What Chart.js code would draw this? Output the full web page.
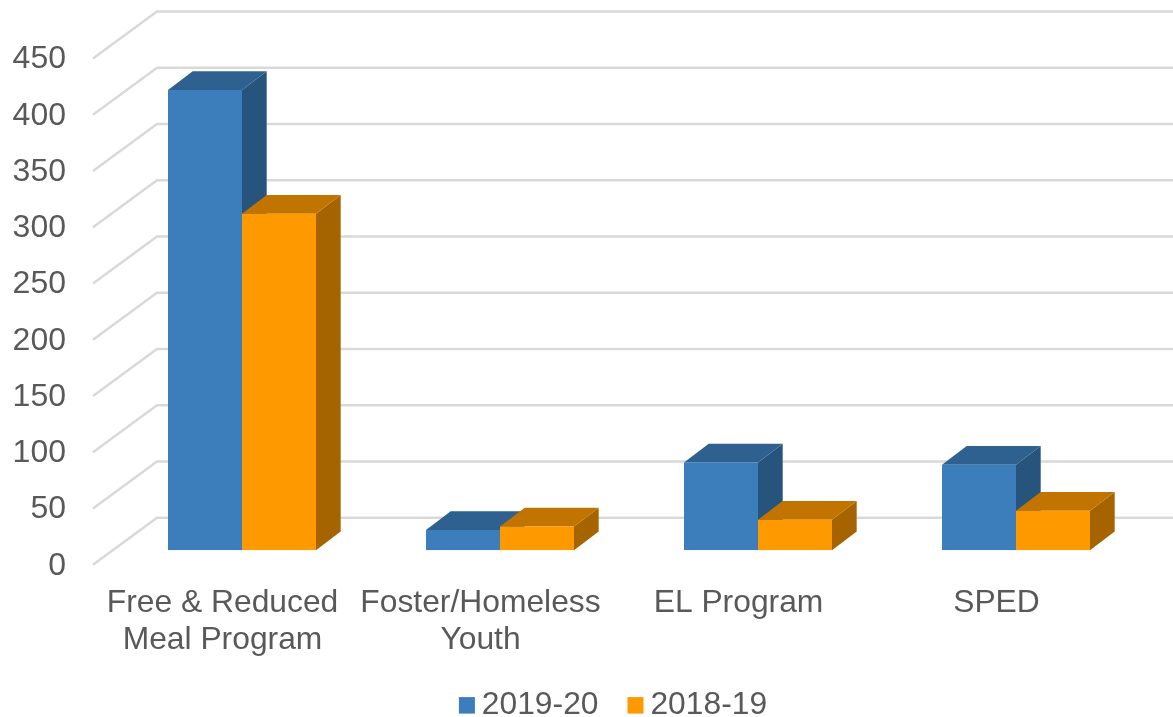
<!DOCTYPE html>
<html>
<head>
<meta charset="utf-8">
<style>html,body{margin:0;padding:0;background:#fff}canvas{display:block}</style>
<script src="https://cdn.jsdelivr.net/npm/chart.js@4/dist/chart.umd.min.js"></script>
</head>
<body>
<canvas id="c" width="1173" height="717"></canvas>
<script>
const categories = [["Free & Reduced","Meal Program"],["Foster/Homeless","Youth"],"EL Program","SPED"];
const series2019 = [409, 18, 78, 76];
const series2018 = [299, 21, 27, 35];
const yTicks = [0,50,100,150,200,250,300,350,400,450];

const wallPlugin = {
  id: 'wall3d',
  afterLayout(chart) {
    const legend = chart.legend;
    legend.left += 44; legend.right += 44;
    legend.top += 14; legend.bottom += 14;
    chart.scales.x.bottom += 30;
  },
  beforeDatasetsDraw(chart) {
    const ctx = chart.ctx, y = chart.scales.y, area = chart.chartArea;
    const frontX = area.left - 20, backX = area.left + 44, right = chart.width;
    ctx.save();
    ctx.strokeStyle = '#d9d9d9';
    ctx.lineWidth = 2.4;
    yTicks.forEach(v => {
      const p = y.getPixelForValue(v);
      ctx.beginPath();
      ctx.moveTo(frontX, p + 14.5);
      ctx.lineTo(backX, p - 32.5);
      ctx.lineTo(right, p - 32.5);
      ctx.stroke();
    });
    const dx = 24.7, dy = 18.8;
    const shades = [{top:'#2E6190', side:'#26547C'},{top:'#C27400', side:'#A66400'}];
    chart.data.datasets.forEach((ds, i) => {
      const meta = chart.getDatasetMeta(i);
      meta.data.forEach(bar => {
        const l = bar.x - bar.width/2, r = bar.x + bar.width/2, t = bar.y, b = bar.base;
        ctx.fillStyle = shades[i].side;
        ctx.beginPath();
        ctx.moveTo(r, t); ctx.lineTo(r+dx, t-dy); ctx.lineTo(r+dx, b-dy); ctx.lineTo(r, b);
        ctx.closePath(); ctx.fill();
        ctx.fillStyle = shades[i].top;
        ctx.beginPath();
        ctx.moveTo(l, t); ctx.lineTo(l+dx, t-dy); ctx.lineTo(r+dx, t-dy); ctx.lineTo(r, t);
        ctx.closePath(); ctx.fill();
      });
    });
    ctx.restore();
  },
  afterDraw(chart) {
    const ctx = chart.ctx, boxes = chart.legend.legendHitBoxes;
    ctx.save();
    boxes.forEach((h, i) => {
      ctx.fillStyle = chart.data.datasets[i].backgroundColor;
      ctx.fillRect(h.left - 7, h.top + h.height/2 - 8, 16, 16.5);
    });
    ctx.restore();
  }
};

new Chart(document.getElementById('c'), {
  type: 'bar',
  data: {
    labels: categories,
    datasets: [
      {label: '2019-20', data: series2019, backgroundColor: '#3B7EBB', borderWidth: 0},
      {label: '2018-19', data: series2018, backgroundColor: '#FF9900', borderWidth: 0}
    ]
  },
  plugins: [wallPlugin],
  options: {
    responsive: false,
    animation: false,
    events: [],
    categoryPercentage: 0.5736,
    barPercentage: 1,
    layout: {padding: {left: 0, right: 28, top: 44, bottom: 0}},
    font: {family: '"Liberation Sans", Arial, sans-serif'},
    scales: {
      x: {
        grid: {display: false},
        border: {display: false},
        afterFit(s) { s.height = 89; },
        ticks: {
          color: '#595959', padding: 26.5, labelOffset: -19.5, maxRotation: 0, autoSkip: false,
          font: {family: '"Liberation Sans", Arial, sans-serif', size: 31.8, lineHeight: 1.16}
        }
      },
      y: {
        min: 0, max: 450,
        grid: {display: false},
        border: {display: false},
        afterFit(s) { s.width = 113; s.paddingTop = 0; s.paddingBottom = 0; },
        ticks: {
          stepSize: 50, color: '#595959', padding: 39, labelOffset: 15.5,
          font: {family: '"Liberation Sans", Arial, sans-serif', size: 32}
        }
      }
    },
    plugins: {
      tooltip: {enabled: false},
      title: {display: false},
      legend: {
        position: 'bottom',
        labels: {
          boxWidth: 0, boxHeight: 0, padding: 36, color: '#595959',
          font: {family: '"Liberation Sans", Arial, sans-serif', size: 31.8}
        }
      }
    }
  }
});
</script>
</body>
</html>
